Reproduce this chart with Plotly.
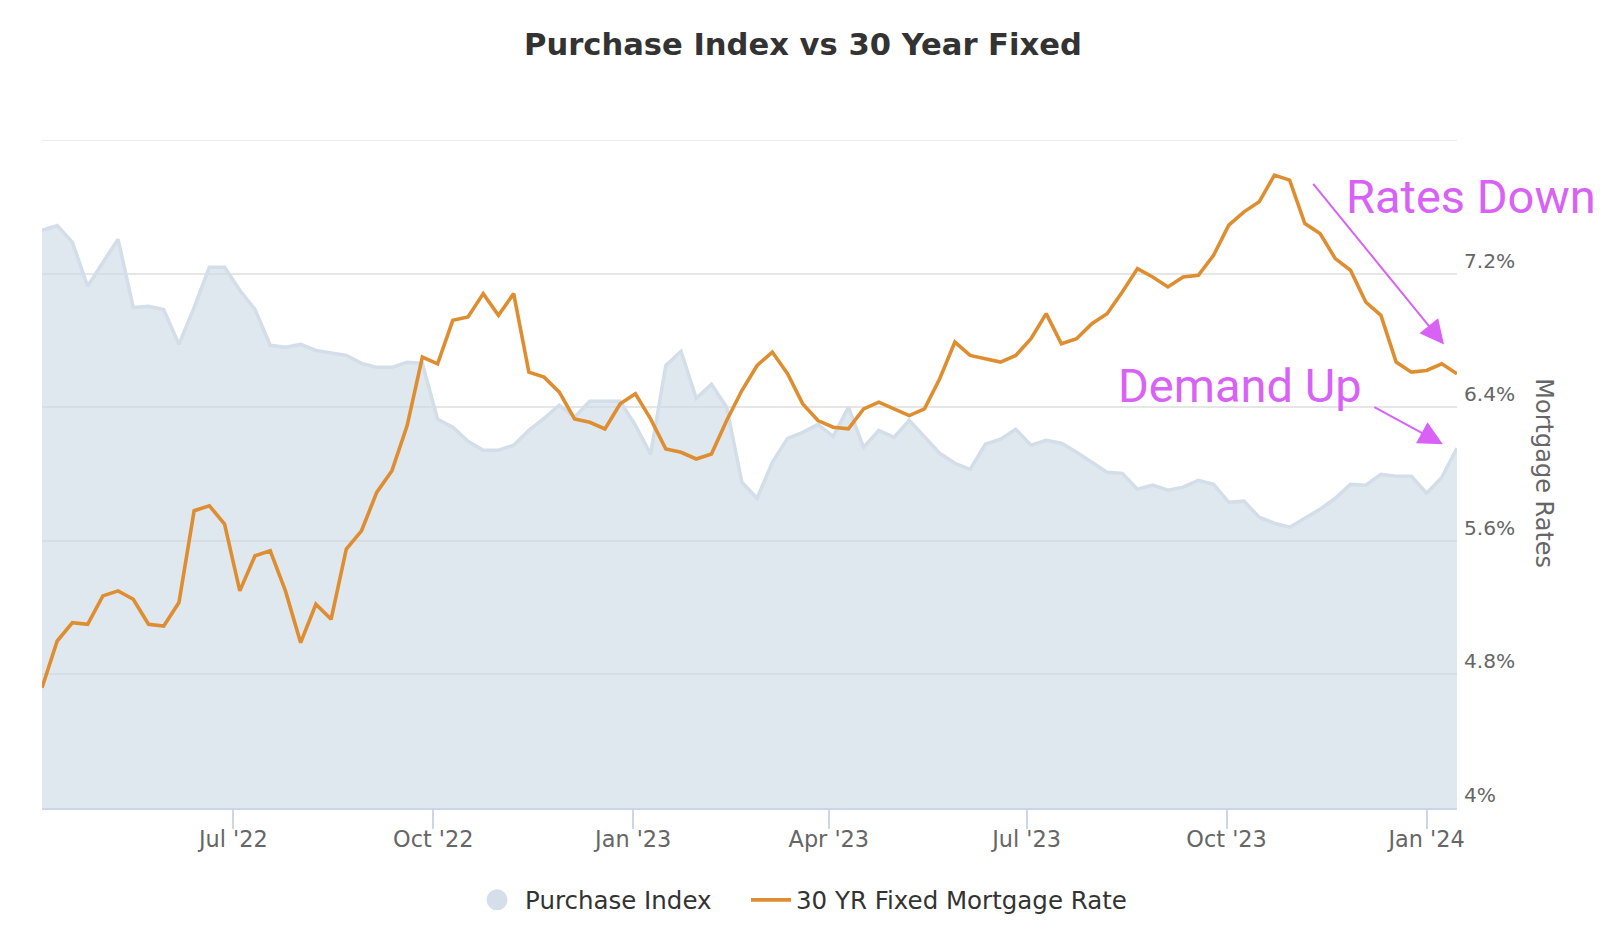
import pandas as pd
import plotly.graph_objects as go

# ---- data ----
week_dates = pd.date_range("2022-04-04", periods=94, freq="7D")

rate_30yr = [
    4.72, 5.00, 5.11, 5.10, 5.27, 5.30, 5.25, 5.10, 5.09, 5.23,
    5.78, 5.81, 5.70, 5.30, 5.51, 5.54, 5.30, 4.99, 5.22, 5.13,
    5.55, 5.66, 5.89, 6.02, 6.29, 6.70, 6.66, 6.92, 6.94, 7.08,
    6.95, 7.08, 6.61, 6.58, 6.49, 6.33, 6.31, 6.27, 6.42, 6.48,
    6.33, 6.15, 6.13, 6.09, 6.12, 6.32, 6.50, 6.65, 6.73, 6.60,
    6.42, 6.32, 6.28, 6.27, 6.39, 6.43, 6.39, 6.35, 6.39, 6.57,
    6.79, 6.71, 6.69, 6.67, 6.71, 6.81, 6.96, 6.78, 6.81, 6.90,
    6.96, 7.09, 7.23, 7.18, 7.12, 7.18, 7.19, 7.31, 7.49, 7.57,
    7.63, 7.79, 7.76, 7.50, 7.44, 7.29, 7.22, 7.03, 6.95, 6.67,
    6.61, 6.62, 6.66, 6.60,
]

purchase_index = [
    259.4, 261.6, 254.0, 234.3, 245.0, 255.4, 224.8, 225.3, 223.9, 208.2,
    224.8, 242.8, 242.8, 232.5, 223.9, 207.8, 206.9, 208.2, 205.5, 204.2,
    203.3, 199.7, 197.9, 197.9, 200.2, 199.7, 174.6, 171.0, 164.7, 160.7,
    160.7, 162.9, 169.6, 175.0, 180.9, 175.5, 182.7, 182.7, 182.7, 171.9,
    158.9, 198.8, 205.1, 184.0, 190.3, 180.0, 146.3, 139.1, 155.3, 166.0,
    168.7, 172.3, 166.9, 180.0, 162.0, 169.6, 166.5, 174.1, 166.5, 159.3,
    154.8, 152.1, 163.4, 165.6, 170.1, 162.9, 165.1, 163.8, 159.8, 155.3,
    150.8, 150.3, 143.2, 145.0, 142.7, 144.1, 147.2, 145.4, 137.3, 137.8,
    130.6, 127.9, 126.1, 130.1, 134.2, 139.1, 145.4, 145.0, 149.9, 149.0,
    149.0, 141.4, 148.5, 161.6,
]

x_tick_vals = ["2022-07-01", "2022-10-01", "2023-01-01", "2023-04-01",
               "2023-07-01", "2023-10-01", "2024-01-01"]
x_tick_text = ["Jul '22", "Oct '22", "Jan '23", "Apr '23", "Jul '23", "Oct '23", "Jan '24"]

rate_tick_vals = [4, 4.8, 5.6, 6.4, 7.2, 8]
rate_tick_text = ["4%", "4.8%", "5.6%", "6.4%", "7.2%", ""]

series_names = ["Purchase Index", "30 YR Fixed Mortgage Rate"]

# ---- styles ----
AREA_LINE = "#d3dee9"
AREA_FILL = "rgba(202,215,228,0.6)"
ORANGE = "#de8e30"
MAGENTA = "#d862f6"
FONT = "DejaVu Sans"
GRID = "#e6e6e6"

fig = go.Figure()

fig.add_trace(go.Scatter(
    x=week_dates, y=purchase_index, mode="lines", fill="tozeroy",
    line=dict(color=AREA_LINE, width=3.5), fillcolor=AREA_FILL,
    yaxis="y", name=series_names[0], showlegend=False, hoverinfo="skip",
))
# legend entry (circle symbol) for the area series
fig.add_trace(go.Scatter(
    x=[None], y=[None], mode="markers",
    marker=dict(symbol="circle", size=16, color="#d5dfe9",
                line=dict(color="#d5dfe9", width=5)),
    name=series_names[0], yaxis="y", legend="legend",
))
fig.add_trace(go.Scatter(
    x=week_dates, y=rate_30yr, mode="lines",
    line=dict(color=ORANGE, width=3.6),
    yaxis="y2", name=series_names[1], legend="legend2",
))

legend_style = dict(
    orientation="h", xanchor="left", y=-0.1376, yanchor="middle",
    font=dict(family=FONT, size=24.5, color="#333333"),
    bgcolor="rgba(0,0,0,0)",
)

fig.update_layout(
    width=1620, height=950,
    margin=dict(l=34, r=171, t=132, b=150),
    paper_bgcolor="white", plot_bgcolor="white",
    title=dict(
        text="Purchase Index vs 30 Year Fixed",
        x=0.4907, xref="container", xanchor="center",
        y=0.9617, yref="container", yanchor="middle",
        font=dict(family=FONT, size=30.6, color="#333333", weight="bold"),
    ),
    xaxis=dict(
        range=[week_dates[0], week_dates[-1]],
        tickvals=x_tick_vals, ticktext=x_tick_text,
        ticks="outside", ticklen=19, tickwidth=1.5, tickcolor="#ccd6eb",
        showline=True, linecolor="#ccd6eb", linewidth=2,
        showgrid=False, zeroline=False, ticklabelstandoff=-9,
        tickfont=dict(family=FONT, size=22.4, color="#666666"),
    ),
    yaxis=dict(range=[0, 300], visible=False, showgrid=False, zeroline=False),
    yaxis2=dict(
        overlaying="y", side="right", anchor="x",
        range=[4, 8], tickvals=rate_tick_vals, ticktext=rate_tick_text,
        showgrid=True, gridcolor=GRID, gridwidth=1.5,
        ticks="", zeroline=False, showline=False,
        ticklabelshift=-13, ticklabelstandoff=6,
        tickfont=dict(family=FONT, size=20.2, color="#666666"),
    ),
    legend=dict(x=0.3018, itemwidth=46, **legend_style),
    legend2=dict(x=0.4975, itemwidth=40, **legend_style),
    showlegend=True,
    shapes=[dict(type="line", xref="paper", x0=0, x1=1, yref="y2", y0=8, y1=8,
                 line=dict(color=GRID, width=1.5), layer="below")],
)

annotations = [
    dict(text="Mortgage Rates", x=1.0615, y=0.501, xref="paper", yref="paper",
         textangle=90, showarrow=False, xanchor="center", yanchor="middle",
         font=dict(family=FONT, size=24, color="#666666")),
    dict(text="Rates Down", x=1.01, y=0.9155, xref="paper", yref="paper",
         showarrow=False, xanchor="center", yanchor="middle",
         font=dict(family="Roboto", size=47, color=MAGENTA)),
    dict(text="Demand Up", x=0.8466, y=0.6328, xref="paper", yref="paper",
         showarrow=False, xanchor="center", yanchor="middle",
         font=dict(family="Roboto", size=47, color=MAGENTA)),
    dict(text="", x=0.9908, y=0.694, xref="paper", yref="paper",
         showarrow=True, ax=-132, ay=-162, arrowhead=2, arrowsize=2.4,
         arrowwidth=2, arrowcolor=MAGENTA, standoff=0),
    dict(text="", x=0.990, y=0.5445, xref="paper", yref="paper",
         showarrow=True, ax=-70, ay=-38, arrowhead=2, arrowsize=2.4,
         arrowwidth=2, arrowcolor=MAGENTA, standoff=0),
]
fig.update_layout(annotations=annotations)

fig.write_html("out.html")
